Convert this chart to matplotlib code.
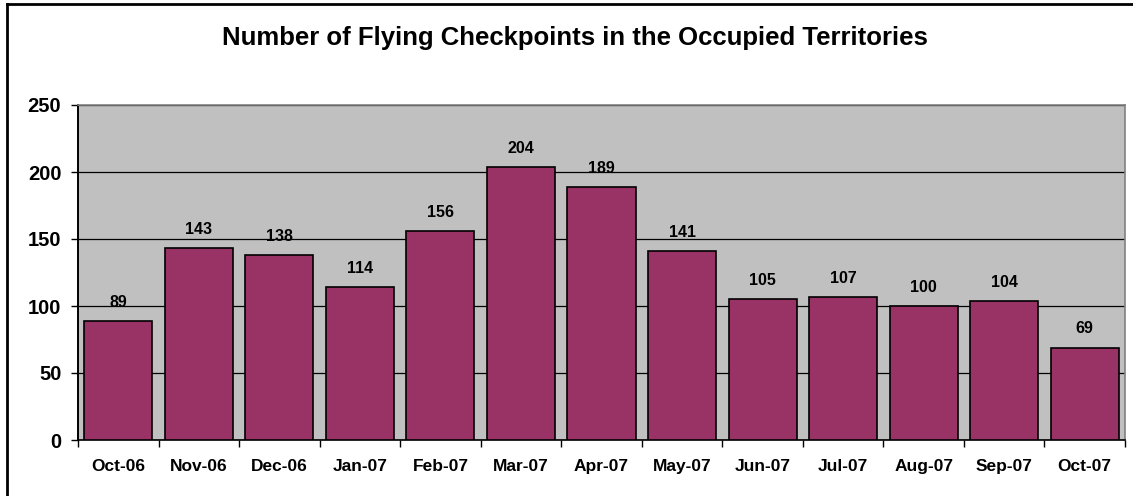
import numpy as np
import matplotlib.pyplot as plt
from matplotlib.lines import Line2D

plt.rcParams['font.family'] = ['Liberation Sans', 'DejaVu Sans']

months = ['Oct-06', 'Nov-06', 'Dec-06', 'Jan-07', 'Feb-07', 'Mar-07', 'Apr-07',
          'May-07', 'Jun-07', 'Jul-07', 'Aug-07', 'Sep-07', 'Oct-07']
checkpoints = [89, 143, 138, 114, 156, 204, 189, 141, 105, 107, 100, 104, 69]
yticks = [0, 50, 100, 150, 200, 250]

fig = plt.figure(figsize=(11.33, 4.96), dpi=100)
ax = fig.add_axes([78/1133, 1 - 440/496, (1125-78)/1133, (440-105)/496])

x = np.arange(len(months))
ax.set_facecolor('#C0C0C0')
ax.bar(x, checkpoints, width=0.845, color='#993366', edgecolor='black',
       linewidth=1.2, zorder=3)

for xi, v in zip(x, checkpoints):
    ax.annotate(str(v), (xi, v), xytext=(0, 8), textcoords='offset points',
                ha='center', va='bottom', fontsize=11.5, fontweight='bold', zorder=4)

ax.set_xlim(-0.5, len(months) - 0.5)
ax.set_ylim(0, 250)
ax.set_yticks(yticks)
ax.set_yticklabels([str(t) for t in yticks], fontsize=14.5, fontweight='bold')
ax.yaxis.grid(True, color='black', linewidth=0.9, zorder=1)
ax.set_axisbelow(True)

ax.set_xticks(x)
ax.set_xticklabels(months, fontsize=12.5, fontweight='bold')
ax.tick_params(axis='x', length=0, pad=14)
ax.set_xticks(np.arange(-0.5, len(months)), minor=True)
ax.tick_params(axis='x', which='minor', length=5, width=1, color='black')
ax.tick_params(axis='y', length=5, width=1, color='black', pad=7)

ax.spines['left'].set_color('black')
ax.spines['bottom'].set_color('black')
ax.spines['left'].set_linewidth(1.4)
ax.spines['bottom'].set_linewidth(1.2)
ax.spines['top'].set_color('#808080')
ax.spines['right'].set_color('#808080')
ax.spines['top'].set_linewidth(1.2)
ax.spines['right'].set_linewidth(1.2)

fig.text(575/1133, 1 - 38/496, 'Number of Flying Checkpoints in the Occupied Territories',
         ha='center', va='center', fontsize=18.5, fontweight='bold')

# chart border (only left and top visible in the reference crop)
fig.add_artist(Line2D([7/1133, 7/1133], [0, 1 - 4/496], color='black', linewidth=2,
                      transform=fig.transFigure))
fig.add_artist(Line2D([7/1133, 1], [1 - 4/496, 1 - 4/496], color='black', linewidth=2,
                      transform=fig.transFigure))

fig.savefig('out.png', dpi=100)
